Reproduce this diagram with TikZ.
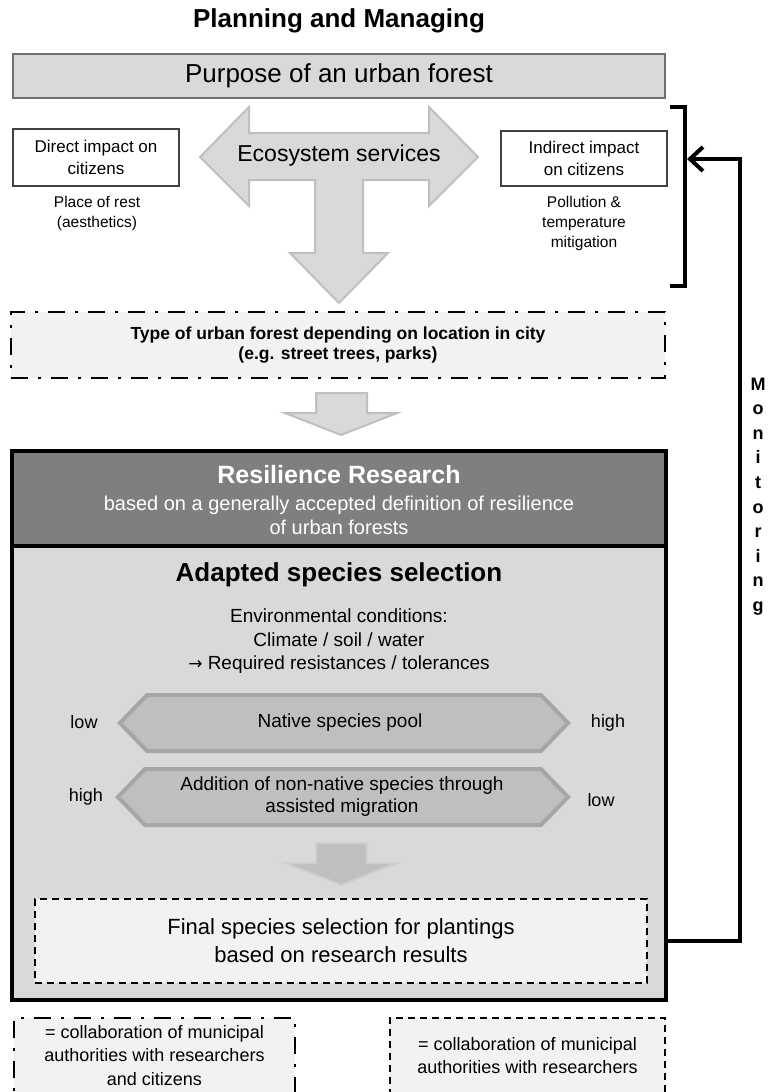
\documentclass[tikz,border=0pt]{standalone}
\usepackage{fontspec}
\setmainfont{Liberation Sans}
\newfontfamily\symfont{DejaVu Sans}
\usetikzlibrary{arrows.meta}
\definecolor{boxgray}{HTML}{D9D9D9}
\definecolor{midgray}{HTML}{BFBFBF}
\definecolor{edgegray}{HTML}{A6A6A6}
\definecolor{headgray}{HTML}{7F7F7F}
\definecolor{palegray}{HTML}{F2F2F2}
\definecolor{framegray}{HTML}{6F6F6F}
\newcommand{\ptsize}[2]{\fontsize{#1}{#2}\selectfont}

\begin{document}
\begin{tikzpicture}[x=1pt,y=-1pt,line join=miter,
  every node/.style={inner sep=0pt,align=center},
  impact/.style={draw=black!75,line width=1.3pt,fill=white,minimum width=166pt,font=\ptsize{17}{22}},
  note/.style={font=\ptsize{15.5}{20}},
  side/.style={font=\ptsize{18}{22}},
  blockarrow/.style={fill=boxgray,draw=midgray,line width=2pt},
  hexa/.style={fill=midgray,draw=edgegray,line width=4pt},
  mixbox/.style={draw,line width=2.5pt,fill=palegray,dash pattern=on 17pt off 10pt on 3pt off 10pt},
  resbox/.style={draw,line width=2.5pt,fill=palegray,dash pattern=on 7pt off 5pt}]
  \useasboundingbox (0,0) rectangle (772,1092);

  % purpose and services
  \node[font=\ptsize{26}{30}\bfseries] (title) at (339,21) {Planning and Managing};
  \node[draw=framegray,line width=2pt,fill=boxgray,minimum width=652pt,minimum height=44pt,font=\ptsize{26}{30}] (purpose) at (339,76) {Purpose of an urban forest};
  \draw[blockarrow] (200,157) -- (249,107) -- (249,133) -- (429,133) -- (429,107) -- (478,157) -- (429,206) -- (429,180) -- (363,180) -- (363,253) -- (388,253) -- (339,303) -- (290,253) -- (315,253) -- (315,180) -- (249,180) -- (249,206) -- cycle;
  \node[font=\ptsize{23}{27}] (eco) at (339,156) {Ecosystem services};
  \node[impact,minimum height=57pt] (direct) at (96,157.5) {Direct impact on\\citizens};
  \node[note] (rest) at (97,213) {Place of rest\\(aesthetics)};
  \node[impact,minimum height=55pt] (indirect) at (584,158.5) {Indirect impact\\on citizens};
  \node[note] (mitig) at (584,223) {Pollution \&\\temperature\\mitigation};
  \draw[line width=4pt] (670,107) -- (685,107) -- (685,286) -- (670,286);

  % location
  \node[mixbox,minimum width=654pt,minimum height=66pt,font=\ptsize{17.5}{20.5}\bfseries] (location) at (338,345) {Type of urban forest depending on location in city\\(e.g. street trees, parks)};
  \draw[blockarrow] (316,393) -- (367,393) -- (367,413) -- (397,413) -- (341,435) -- (285,413) -- (316,413) -- cycle;

  % resilience research
  \node[fill=headgray,minimum width=654pt,minimum height=95pt] (head) at (339,498.5) {};
  \node[fill=boxgray,minimum width=654pt,minimum height=454pt] (resil) at (339,773) {};
  \draw[line width=3.5pt] (head.north west) rectangle (resil.south east);
  \draw[line width=3.5pt] (head.south west) -- (head.south east);
  \node[font=\ptsize{25}{30}\bfseries,text=white] (restitle) at (339,475) {Resilience Research};
  \node[font=\ptsize{20}{24},text=white] (resdef) at (339,515) {based on a generally accepted definition of resilience\\of urban forests};
  \node[font=\ptsize{26}{30}\bfseries] (adapted) at (339,575) {Adapted species selection};
  \node[font=\ptsize{19}{23.5}] (env) at (339,641.5) {Environmental conditions:\\Climate / soil / water\\{\symfont\ptsize{17}{23.5}→} Required resistances / tolerances};

  \draw[hexa] (120,723) -- (147,695) -- (541,695) -- (568,723) -- (541,751) -- (147,751) -- cycle;
  \node[font=\ptsize{19}{23}] (native) at (340,723) {Native species pool};
  \node[side] (lowA) at (84,722) {low};
  \node[side] (highA) at (608,723) {high};
  \draw[hexa] (118,797) -- (145,769) -- (541,769) -- (568,797) -- (541,825) -- (145,825) -- cycle;
  \node[font=\ptsize{19}{22}] (assisted) at (342,797) {Addition of non-native species through\\assisted migration};
  \node[side] (highB) at (86,797) {high};
  \node[side] (lowB) at (601,800) {low};
  \draw[blockarrow,fill=midgray,draw=boxgray!60!midgray] (316,843) -- (367,843) -- (367,863) -- (397,863) -- (341,885) -- (285,863) -- (316,863) -- cycle;
  \node[resbox,minimum width=612pt,minimum height=84pt,font=\ptsize{22}{28}] (final) at (341,941) {Final species selection for plantings\\based on research results};

  % monitoring loop
  \coordinate (brk) at (687,159);
  \draw[line width=4pt,-{Straight Barb[length=13pt,width=24pt]}] (final.east -| resil.east) -- ++(74,0) |- (brk);
  \foreach \c [count=\i from 0] in {M,o,n,i,t,o,r,i,n,g}
    \node[font=\ptsize{18}{20}\bfseries,anchor=base] (mon\i) at (758,390+24.6*\i) {\c};

  % legend
  \node[mixbox,minimum width=281pt,minimum height=75pt,font=\ptsize{18}{23.5}] (keyall) at (154.5,1055.5) {= collaboration of municipal\\authorities with researchers\\and citizens};
  \node[resbox,minimum width=275pt,minimum height=75pt,font=\ptsize{18}{23.5}] (keyres) at (527.5,1055.5) {= collaboration of municipal\\authorities with researchers};
\end{tikzpicture}
\end{document}
